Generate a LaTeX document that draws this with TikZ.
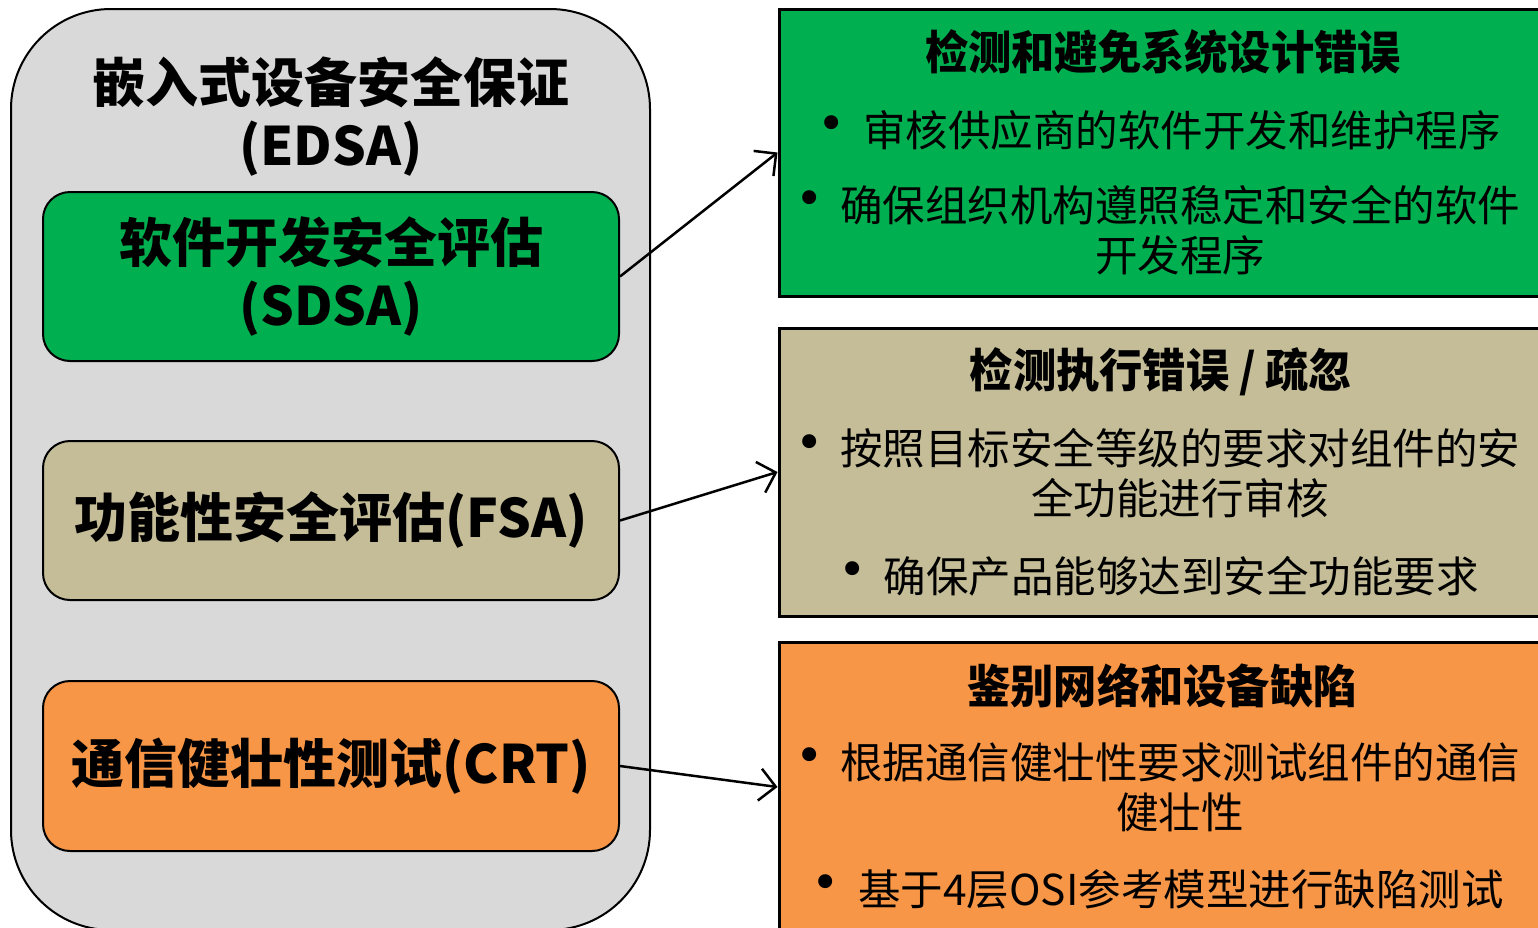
\documentclass[tikz,border=0pt]{standalone}
\usepackage{fontspec}
\setmainfont{Noto Sans CJK SC}
\newfontfamily\headfont[FakeStretch=0.94]{Noto Sans CJK SC}
\newfontfamily\dotfont{DejaVu Sans}
\usetikzlibrary{arrows.meta}
\definecolor{cgreen}{HTML}{00B050}
\definecolor{ctan}{HTML}{C4BD97}
\definecolor{corange}{HTML}{F79646}
\definecolor{cgray}{HTML}{D9D9D9}
\tikzset{
  outerbox/.style={draw=black, line width=2pt, fill=cgray, rounded corners=100pt, inner sep=0pt},
  leftbox/.style={draw=black, line width=2pt, rounded corners=27pt, minimum width=576pt, inner sep=0pt},
  rightbox/.style={draw=black, line width=3pt, minimum width=766pt, inner sep=0pt},
  bigtitle/.style={font=\fontsize{53pt}{63pt}\selectfont\bfseries, align=center, inner sep=0pt},
  head/.style={font=\headfont\fontsize{46pt}{52pt}\selectfont\bfseries, align=center, inner sep=0pt},
  item/.style={font=\fontsize{42.5pt}{50pt}\selectfont, align=center, inner sep=0pt},
  dot/.style={font=\dotfont\fontsize{48pt}{52pt}\selectfont, inner sep=0pt},
  link/.style={line width=2.5pt, -{Straight Barb[length=16pt,width=32pt,line width=2.5pt]}}
}
\begin{document}
\begin{tikzpicture}[x=1pt,y=-1pt]
\useasboundingbox (0,0) rectangle (1538,927);
\clip (0,0) rectangle (1538,927);
\fill[white] (0,0) rectangle (1538,927);
% outer box
\node[outerbox, minimum width=639pt, minimum height=921pt] (edsa) at (330.5,469.5) {};
\node[bigtitle] (edsat) at (331,117) {嵌入式设备安全保证\\(EDSA)};
% left boxes
\node[leftbox, fill=cgreen, minimum height=169pt, bigtitle] (sdsa) at (331,276.5) {软件开发安全评估\\(SDSA)};
\node[leftbox, fill=ctan, minimum height=159pt, bigtitle] (fsa) at (331,520.5) {功能性安全评估(FSA)};
\node[leftbox, fill=corange, minimum height=170pt, bigtitle] (crt) at (331,766) {通信健壮性测试(CRT)};
% right boxes
\node[rightbox, fill=cgreen, minimum height=287pt] (dg) at (1162,152.5) {};
\node[rightbox, fill=ctan, minimum height=288pt] (dt) at (1162,472) {};
\node[rightbox, fill=corange, minimum height=290pt] (do) at (1162,787) {};
% green box text
\node[head] (h1) at (1163,52) {检测和避免系统设计错误};
\node[dot] (d1) at (832,128) {•};
\node[item] (t1) at (1182,130) {审核供应商的软件开发和维护程序};
\node[dot] (d2) at (810,203) {•};
\node[item] (t2) at (1180,230) {确保组织机构遵照稳定和安全的软件\\开发程序};
% tan box text
\node[head] (h2) at (1161,372) {检测执行错误 / 疏忽};
\node[dot] (d3) at (810,447) {•};
\node[item] (t3) at (1180,473.5) {按照目标安全等级的要求对组件的安\\全功能进行审核};
\node[dot] (d4) at (853,574) {•};
\node[item] (t4) at (1181,576) {确保产品能够达到安全功能要求};
% orange box text
\node[head] (h3) at (1162,686) {鉴别网络和设备缺陷};
\node[dot] (d5) at (810,760) {•};
\node[item] (t5) at (1180,787) {根据通信健壮性要求测试组件的通信\\健壮性};
\node[dot] (d6) at (826,887) {•};
\node[item] (t6) at (1181,889) {基于4层OSI参考模型进行缺陷测试};
% connectors
\draw[link] (sdsa.east) -- (dg.west);
\draw[link] (fsa.east) -- (dt.west);
\draw[link] (crt.east) -- (do.west);
\end{tikzpicture}
\end{document}
